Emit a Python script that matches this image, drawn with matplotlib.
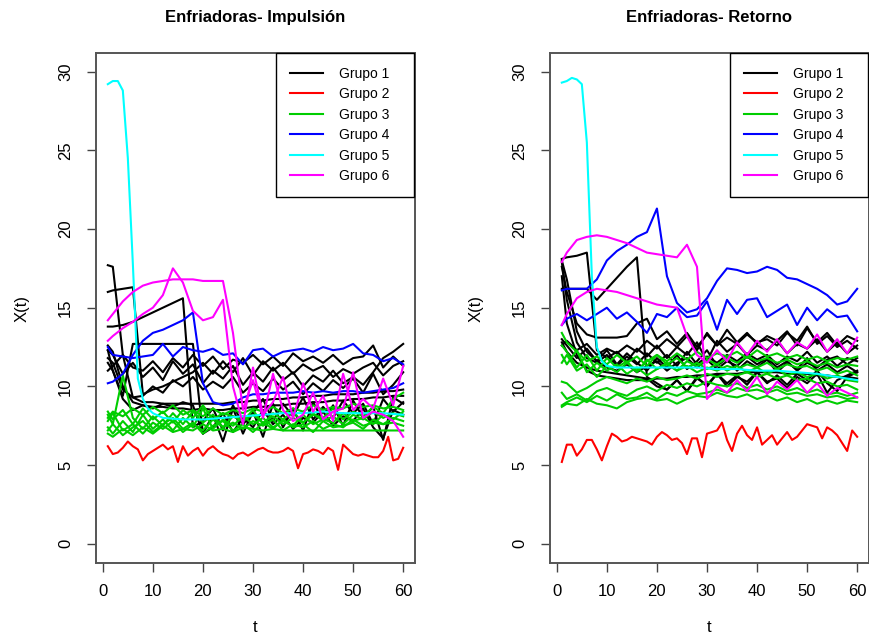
import matplotlib.pyplot as plt
from matplotlib.lines import Line2D

plt.rcParams['font.family'] = ['Liberation Sans', 'DejaVu Sans']

# tiempos de muestreo
t_full = list(range(1, 61))
t_grid = [1] + list(range(2, 61, 2))
t_cyan = list(range(1, 11)) + list(range(12, 61, 4))

grupos = ["Grupo 1", "Grupo 2", "Grupo 3", "Grupo 4", "Grupo 5", "Grupo 6"]
colores = ["black", "#FF0000", "#00CD00", "#0000FF", "#00FFFF", "#FF00FF"]

# ---------------- Impulsión ----------------
imp_g1 = [
    [17.7, 17.6, 12.0, 9.3, 9.0, 9.0, 8.9, 8.9, 8.9, 8.9, 8.9, 8.9, 8.9, 9.0, 9.0, 9.1,
     9.1, 9.2, 9.2, 9.3, 9.3, 9.4, 9.4, 9.5, 9.5, 9.5, 9.6, 9.6, 9.7, 9.7, 9.8],
    [16.0, 16.1, 16.2, 16.3, 9.5, 9.8, 10.0, 10.3, 10.6, 10.9, 11.5, 10.8, 11.6, 10.9, 11.8, 10.7,
     11.6, 11.0, 11.5, 10.8, 11.4, 11.0, 11.3, 10.6, 11.1, 10.8, 11.2, 11.5, 10.7, 11.3, 11.6],
    [13.8, 13.8, 13.9, 14.1, 14.4, 14.7, 15.0, 15.3, 15.6, 7.4, 7.8, 8.6, 7.2, 8.8, 7.6, 8.3,
     9.2, 7.8, 8.9, 8.1, 9.3, 7.9, 8.7, 8.0, 9.1, 8.3, 8.9, 7.6, 9.2, 8.4, 9.0],
    [12.3, 11.0, 9.4, 12.7, 12.7, 12.7, 12.7, 12.7, 12.7, 12.7, 7.0, 7.4, 8.3, 7.1, 8.0, 7.4,
     8.5, 7.6, 8.2, 7.3, 8.0, 7.7, 8.4, 7.5, 8.1, 7.8, 8.6, 7.4, 6.7, 8.5, 8.2],
    [12.3, 12.0, 10.8, 11.5, 10.6, 11.2, 10.4, 11.6, 10.8, 11.4, 10.2, 11.0, 10.5, 11.3, 10.1, 10.9,
     10.3, 11.2, 10.4, 10.9, 10.0, 10.7, 10.3, 11.0, 10.2, 10.6, 10.1, 10.9, 11.8, 12.2, 12.7],
    [11.8, 11.5, 9.8, 9.3, 9.4, 10.0, 9.6, 10.4, 10.0, 10.6, 9.8, 10.3, 9.9, 10.6, 9.6, 10.2,
     9.7, 10.5, 9.8, 10.3, 9.5, 10.2, 9.7, 10.4, 9.9, 10.5, 9.6, 10.8, 9.5, 10.1, 10.9],
    [11.5, 11.0, 9.2, 8.5, 8.8, 8.6, 8.9, 8.7, 9.0, 8.8, 7.0, 8.2, 6.5, 8.6, 7.0, 8.4,
     6.8, 8.9, 7.4, 8.6, 7.2, 9.0, 7.8, 8.8, 7.5, 9.1, 8.0, 8.7, 6.6, 9.3, 8.9],
    [12.6, 12.2, 10.0, 9.0, 8.8, 8.7, 8.7, 8.6, 8.6, 8.5, 8.6, 8.5, 8.5, 8.6, 8.6, 8.7,
     8.7, 8.8, 8.8, 8.9, 8.9, 9.0, 9.0, 9.1, 9.1, 9.2, 9.2, 9.3, 9.3, 9.4, 9.4],
    [11.0, 11.3, 12.0, 11.2, 11.0, 11.6, 10.9, 11.8, 11.2, 12.0, 11.3, 11.9, 11.1, 11.7, 11.5, 12.0,
     11.4, 11.9, 11.3, 12.1, 11.6, 11.9, 11.5, 12.0, 11.4, 11.8, 11.9, 12.6, 11.2, 11.9, 11.3],
]
imp_g2 = [6.2, 5.7, 5.8, 6.1, 6.5, 6.2, 6.0, 5.3, 5.7, 5.9,
          6.1, 6.3, 6.0, 6.2, 5.2, 6.2, 5.6, 5.9, 6.1, 5.6,
          6.0, 6.2, 5.9, 5.7, 5.6, 5.4, 5.7, 5.8, 5.6, 5.8,
          6.0, 6.1, 5.9, 5.8, 5.8, 5.9, 6.1, 5.9, 4.8, 5.7,
          5.8, 6.0, 5.9, 5.7, 6.1, 5.9, 4.7, 6.3, 6.0, 5.7,
          5.6, 5.7, 5.6, 5.5, 5.5, 5.9, 6.8, 5.3, 5.4, 6.1]
imp_g3 = [
    [8.2, 7.6, 10.7, 8.0, 7.3, 8.1, 7.5, 8.3, 7.6, 8.4, 7.7, 8.2, 7.4, 8.1, 7.8, 8.5,
     7.6, 8.3, 7.9, 8.4, 7.7, 8.2, 8.0, 8.6, 7.9, 8.4, 8.1, 8.7, 8.3, 9.2, 9.6],
    [7.4, 7.0, 7.8, 7.1, 8.2, 7.3, 7.9, 7.2, 8.0, 7.4, 8.6, 7.3, 7.9, 7.5, 8.1, 7.6,
     8.0, 7.4, 7.8, 7.5, 8.2, 7.6, 7.9, 7.7, 8.3, 7.8, 8.0, 7.6, 8.2, 7.9, 8.4],
    [7.8, 8.3, 7.2, 7.6, 7.0, 7.7, 7.3, 7.8, 7.1, 7.6, 7.2, 7.9, 7.4, 7.7, 7.3, 7.8,
     7.5, 7.9, 7.2, 7.6, 7.4, 7.8, 7.3, 7.6, 7.4, 7.9, 7.5, 7.7, 7.6, 8.0, 7.8],
    [7.0, 6.8, 7.3, 6.9, 7.4, 7.0, 7.5, 7.1, 7.3, 7.2, 7.6, 7.2, 7.3, 7.1, 7.4, 7.3,
     7.2, 7.3, 7.2, 7.2, 7.2, 7.2, 7.2, 7.2, 7.2, 7.2, 7.2, 7.2, 7.2, 7.2, 7.2],
    [8.4, 7.9, 8.5, 7.6, 8.6, 7.9, 8.4, 7.7, 8.5, 8.0, 8.8, 7.9, 8.3, 8.1, 7.8, 8.2,
     7.7, 8.1, 7.6, 8.0, 7.7, 8.3, 7.8, 8.1, 7.6, 8.2, 7.9, 8.4, 8.0, 8.3, 8.1],
    [7.2, 7.6, 6.9, 7.4, 7.8, 7.1, 7.6, 8.0, 7.3, 7.7, 7.0, 7.5, 7.8, 7.2, 7.6, 7.1,
     7.7, 7.3, 7.9, 7.4, 7.6, 7.1, 7.8, 7.4, 7.5, 7.7, 7.3, 7.9, 7.6, 7.7, 7.5],
    [8.0, 8.4, 8.1, 8.6, 8.2, 8.7, 8.3, 8.8, 8.2, 8.5, 8.1, 8.6, 8.2, 8.5, 8.3, 8.6,
     8.4, 8.7, 8.3, 8.6, 8.4, 8.8, 8.5, 8.7, 8.6, 8.9, 8.7, 8.8, 8.6, 8.7, 8.5],
]
imp_g4 = [
    [12.5, 12.0, 11.9, 11.8, 11.9, 12.0, 12.7, 11.9, 12.5, 12.3, 12.2, 12.4, 12.0, 12.1, 11.4, 12.3,
     12.4, 11.9, 12.2, 12.3, 12.4, 12.2, 12.5, 12.3, 12.4, 12.7, 12.1, 12.0, 11.6, 11.8, 11.4],
    [10.2, 10.3, 10.8, 12.0, 12.9, 13.4, 13.6, 13.9, 14.2, 14.7, 10.2, 9.0, 8.8, 8.9, 9.3, 9.5,
     9.5, 9.6, 9.6, 9.6, 9.7, 9.6, 9.7, 9.6, 9.7, 9.7, 9.6, 9.7, 9.8, 9.9, 10.2],
]
imp_g5 = [29.2, 29.4, 29.4, 28.8, 24.5, 17.8, 10.5, 9.2, 8.6, 8.3,
          8.0, 7.9, 7.9, 8.0, 8.1, 8.2, 8.3, 8.3, 8.4, 8.3, 8.3, 8.3, 8.2]
imp_g6 = [
    [14.2, 14.6, 15.4, 16.0, 16.4, 16.6, 16.7, 16.8, 16.8, 16.8, 16.7, 16.7, 16.7, 13.4, 8.5, 10.4,
     8.0, 10.8, 8.5, 7.8, 8.2, 9.6, 7.9, 8.4, 8.6, 10.9, 8.0, 8.4, 8.2, 7.8, 6.8],
    [12.9, 13.2, 13.7, 14.1, 14.6, 15.0, 15.8, 17.5, 16.6, 14.8, 14.2, 14.4, 15.5, 10.0, 7.6, 11.2,
     8.2, 9.0, 10.6, 8.0, 10.2, 8.4, 9.4, 7.8, 10.8, 8.5, 9.2, 8.6, 10.5, 8.8, 11.3],
]

# ---------------- Retorno ----------------
ret_g1 = [
    [18.1, 18.2, 18.3, 18.5, 12.3, 11.8, 12.2, 11.6, 12.4, 11.9, 12.6, 11.8, 12.5, 12.0, 12.8, 11.6,
     12.9, 12.2, 12.7, 12.0, 12.6, 12.3, 12.9, 12.1, 12.7, 12.4, 13.0, 12.2, 12.8, 12.1, 12.6],
    [16.2, 16.2, 16.2, 16.2, 15.5, 16.2, 16.9, 17.6, 18.2, 10.6, 10.2, 9.8, 10.4, 9.7, 10.6, 10.0,
     10.8, 10.2, 10.7, 10.1, 10.9, 10.3, 10.5, 9.9, 10.6, 10.2, 10.8, 9.6, 10.4, 10.7, 11.0],
    [17.6, 16.0, 14.0, 13.3, 13.1, 13.1, 13.1, 13.2, 14.0, 14.3, 13.0, 13.5, 12.7, 13.4, 12.5, 13.3,
     12.6, 13.6, 12.8, 13.4, 12.7, 13.2, 12.9, 13.5, 12.6, 13.7, 12.8, 13.4, 12.6, 13.2, 12.9],
    [17.9, 15.5, 12.8, 11.8, 11.5, 12.0, 11.3, 11.9, 11.4, 12.1, 11.5, 12.0, 11.3, 12.2, 11.4, 11.9,
     11.5, 12.0, 11.6, 12.1, 11.7, 12.0, 11.4, 11.9, 11.6, 12.2, 11.5, 11.9, 11.3, 11.8, 11.6],
    [17.0, 14.0, 12.0, 11.0, 10.7, 10.6, 10.5, 10.4, 10.4, 10.4, 10.5, 10.5, 10.6, 10.6, 10.7, 10.7,
     10.8, 10.8, 10.8, 10.9, 10.9, 10.9, 10.9, 10.8, 10.8, 10.8, 10.7, 10.7, 10.6, 10.6, 10.5],
    [13.0, 12.6, 11.8, 12.4, 11.6, 12.3, 11.4, 12.1, 11.5, 11.0, 11.8, 11.2, 12.0, 11.1, 11.6, 12.3,
     11.3, 11.8, 11.0, 11.6, 11.2, 11.7, 10.9, 11.5, 11.1, 11.8, 11.0, 11.4, 10.9, 11.3, 10.9],
    [12.8, 12.2, 11.5, 11.2, 11.0, 10.9, 10.8, 10.7, 10.6, 10.5, 10.0, 9.8, 10.4, 9.7, 10.5, 10.1,
     10.8, 10.0, 10.6, 10.3, 10.9, 10.2, 10.7, 10.1, 10.8, 10.4, 11.0, 10.2, 9.7, 10.6, 10.9],
    [12.6, 12.9, 12.3, 12.7, 12.0, 12.4, 12.1, 12.6, 12.2, 12.9, 12.4, 13.0, 12.5, 13.2, 12.3, 13.4,
     12.6, 13.1, 12.7, 13.3, 12.8, 13.0, 12.6, 13.4, 12.9, 13.8, 12.7, 13.2, 12.5, 12.9, 12.4],
    [18.0, 16.8, 13.5, 12.2, 11.6, 11.2, 11.0, 11.4, 10.9, 11.3, 11.6, 11.0, 11.5, 11.8, 11.2, 11.7,
     11.1, 11.6, 11.3, 11.9, 11.4, 11.8, 11.2, 11.6, 11.0, 11.5, 11.2, 11.7, 11.9, 11.4, 11.8],
]
ret_g2 = [5.2, 6.3, 6.3, 5.6, 6.0, 6.6, 6.6, 6.0, 5.3, 6.2,
          7.0, 6.8, 6.5, 6.6, 6.8, 6.7, 6.6, 6.5, 6.3, 6.8,
          7.1, 6.9, 6.6, 6.7, 6.4, 5.7, 6.7, 6.7, 5.5, 7.0,
          7.1, 7.2, 7.7, 6.6, 5.9, 7.0, 7.5, 6.9, 6.6, 7.4,
          6.3, 6.6, 6.9, 6.3, 6.7, 7.1, 6.6, 6.8, 7.2, 7.6,
          7.5, 7.4, 6.7, 7.4, 7.2, 6.9, 6.4, 5.9, 7.2, 6.8]
ret_g3 = [
    [13.4, 12.8, 12.2, 11.6, 11.9, 11.4, 12.0, 11.5, 11.9, 11.3, 12.0, 11.6, 12.1, 11.7, 12.2, 11.8,
     12.1, 11.9, 12.2, 11.8, 12.3, 11.9, 12.1, 11.8, 12.0, 11.7, 11.9, 11.6, 11.8, 11.7, 11.9],
    [12.6, 12.2, 11.2, 12.0, 11.0, 11.8, 11.2, 11.6, 10.9, 11.7, 11.1, 11.5, 11.0, 11.6, 11.3, 11.7,
     11.4, 11.8, 11.5, 11.9, 11.6, 11.8, 11.5, 11.7, 11.4, 11.6, 11.3, 11.5, 11.2, 11.4, 11.3],
    [12.0, 11.4, 12.3, 10.9, 11.5, 11.0, 11.4, 10.8, 11.2, 10.7, 11.1, 11.4, 11.0, 11.3, 10.9, 11.2,
     11.0, 11.3, 11.1, 11.4, 11.2, 11.5, 11.1, 11.4, 11.2, 11.3, 11.0, 11.2, 10.8, 11.0, 10.7],
    [11.5, 12.0, 11.0, 11.4, 10.6, 11.3, 10.9, 11.5, 11.0, 11.6, 12.0, 11.4, 11.8, 11.2, 11.5, 11.1,
     11.4, 11.0, 11.3, 10.9, 11.2, 10.8, 11.1, 10.7, 10.9, 10.6, 10.8, 10.5, 10.7, 10.4, 10.3],
    [10.3, 10.2, 9.6, 9.9, 10.3, 10.6, 10.4, 10.2, 10.5, 10.3, 10.6, 10.4, 10.5, 10.7, 10.5, 10.8,
     10.6, 10.8, 10.7, 10.9, 10.6, 10.8, 10.5, 10.7, 10.4, 10.5, 10.2, 10.3, 10.0, 10.1, 9.8],
    [9.6, 9.2, 9.5, 9.1, 9.7, 9.9, 9.6, 9.4, 9.8, 10.0, 9.7, 10.1, 9.9, 10.2, 10.0, 10.3,
     10.1, 10.0, 10.2, 9.9, 10.1, 9.8, 10.0, 9.7, 9.9, 9.6, 9.8, 9.5, 9.6, 9.4, 9.6],
    [8.8, 9.0, 9.3, 9.0, 9.4, 9.1, 9.5, 9.2, 9.3, 9.6, 9.2, 9.6, 9.4, 9.7, 9.5, 9.6,
     9.8, 9.6, 9.9, 9.7, 9.8, 9.6, 9.8, 9.5, 9.6, 9.4, 9.5, 9.3, 9.4, 9.2, 9.3],
    [8.7, 8.9, 8.8, 9.2, 8.9, 8.8, 8.6, 9.0, 9.2, 9.3, 9.1, 9.2, 8.9, 9.2, 9.4, 9.3,
     9.6, 9.4, 9.3, 9.5, 9.2, 9.4, 9.1, 9.3, 9.0, 9.2, 8.9, 9.1, 8.9, 9.1, 9.0],
]
ret_g4 = [
    [16.1, 16.2, 16.2, 16.2, 16.8, 18.0, 18.6, 19.0, 19.5, 19.8, 21.3, 17.0, 15.3, 14.7, 14.9, 15.6,
     16.7, 17.5, 17.4, 17.2, 17.3, 17.6, 17.4, 16.9, 16.8, 16.5, 16.2, 15.8, 15.2, 15.4, 16.2],
    [13.9, 14.3, 14.6, 14.2, 14.6, 15.0, 14.3, 14.7, 14.1, 13.4, 14.6, 14.4, 15.0, 14.4, 14.5, 15.4,
     13.6, 15.5, 14.6, 15.5, 15.6, 14.4, 14.8, 15.2, 13.9, 15.0, 14.2, 14.9, 14.4, 14.5, 13.5],
]
ret_g5 = [29.3, 29.4, 29.6, 29.5, 29.2, 25.5, 17.0, 12.5, 11.6, 11.3,
          11.2, 11.2, 11.2, 11.2, 11.2, 11.1, 11.1, 11.0, 11.0, 10.9, 10.8, 10.6, 10.4]
ret_g6 = [
    [17.9, 18.5, 19.3, 19.5, 19.6, 19.5, 19.3, 19.1, 18.8, 18.5, 18.4, 18.3, 18.2, 19.0, 17.6, 9.2,
     10.0, 9.6, 10.4, 9.7, 10.6, 9.5, 10.3, 9.8, 10.4, 9.6, 10.2, 9.4, 9.9, 9.6, 9.3],
    [13.9, 14.6, 15.6, 16.0, 16.2, 16.1, 16.0, 15.8, 15.6, 15.4, 15.2, 15.1, 15.0, 13.2, 12.0, 11.5,
     12.3, 11.6, 12.8, 12.0, 12.9, 12.2, 13.0, 12.1, 12.8, 12.4, 13.3, 12.2, 13.0, 12.1, 13.1],
]


def dibujar(ax, titulo, g1, g2, g3, g4, g5, g6):
    capas = [(t_grid, g1), (t_full, [g2]), (t_grid, g3),
             (t_grid, g4), (t_cyan, [g5]), (t_grid, g6)]
    for color, (tiempos, curvas) in zip(colores, capas):
        for y in curvas:
            ax.plot(tiempos, y, color=color, lw=1.5)

    ax.set_xlim(-1.36, 62.36)
    ax.set_ylim(-1.2, 31.2)
    ax.set_xticks(range(0, 61, 10))
    ax.set_yticks(range(0, 31, 5))
    ax.tick_params(direction="out", length=6.5, width=1, color="#444444",
                   labelsize=12, pad=9)
    ax.tick_params(axis="y", labelrotation=90, pad=10)
    for lbl in ax.get_yticklabels():
        lbl.set_va("center")
    for s in ax.spines.values():
        s.set_color("#555555")
        s.set_linewidth(1.4)
    ax.set_title(titulo, fontsize=12, fontweight="bold", pad=22)

    handles = [Line2D([], [], color=c, lw=1.5) for c in colores]
    leg = ax.legend(handles, grupos, loc="upper left", mode="expand",
                    bbox_to_anchor=(0.565, 0, 0.432, 1), borderaxespad=0,
                    fontsize=10, fancybox=False, framealpha=1, edgecolor="black",
                    borderpad=1.0, labelspacing=0.47, handlelength=2.4,
                    handletextpad=1.1)
    leg.get_frame().set_linewidth(1.0)


fig = plt.figure(figsize=(8.7, 6.39), dpi=100)
ax1 = fig.add_axes([96 / 870, 76.3 / 639, 319 / 870, 510 / 639])
ax2 = fig.add_axes([550 / 870, 76.3 / 639, 319 / 870, 510 / 639])

dibujar(ax1, "Enfriadoras- Impulsión", imp_g1, imp_g2, imp_g3, imp_g4, imp_g5, imp_g6)
dibujar(ax2, "Enfriadoras- Retorno", ret_g1, ret_g2, ret_g3, ret_g4, ret_g5, ret_g6)

for x0, xc in [(22, 255.5), (476, 709.5)]:
    fig.text(x0 / 870, 1 - 308 / 639, "X(t)", rotation=90, fontsize=12,
             ha="center", va="center")
    fig.text(xc / 870, 1 - 628 / 639, "t", fontsize=12, ha="center", va="center")

fig.savefig("out.png", dpi=100)
